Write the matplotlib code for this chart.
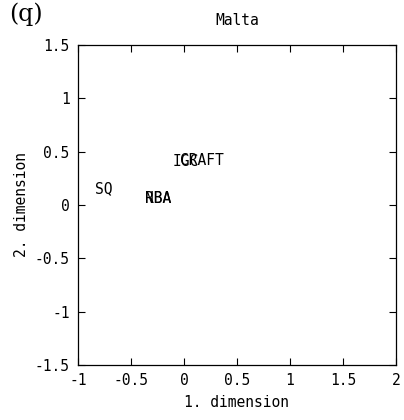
import matplotlib
matplotlib.use("Agg")
import matplotlib.pyplot as plt

# Positions of the parties in the 2-d scaling solution (Malta)
labels = ["SQ", "NBA", "RBA", "IGC", "CRAFT"]
dim1 = [-0.84, -0.37, -0.37, -0.11, -0.04]
dim2 = [0.15, 0.06, 0.06, 0.41, 0.42]

xticks = [-1, -0.5, 0, 0.5, 1, 1.5, 2]
yticks = [-1.5, -1, -0.5, 0, 0.5, 1, 1.5]

plt.rcParams["font.family"] = ["DejaVu Sans Mono"]
plt.rcParams["axes.unicode_minus"] = False

fs = 10.5

fig = plt.figure(figsize=(4.04, 4.20), dpi=100)
ax = fig.add_axes([0.193, 0.131, 0.787, 0.762])

for lab, x, y in zip(labels, dim1, dim2):
    ax.text(x, y, lab, fontsize=fs, ha="left", va="center", color="black")

ax.set_xlim(-1, 2)
ax.set_ylim(-1.5, 1.5)
ax.set_xticks(xticks)
ax.set_yticks(yticks)
ax.set_xticklabels([f"{t:g}" for t in xticks])
ax.set_yticklabels([f"{t:g}" for t in yticks])
ax.tick_params(direction="in", top=True, right=True, length=5, width=0.8,
               labelsize=fs, pad=6)
for s in ax.spines.values():
    s.set_linewidth(0.9)

ax.set_xlabel("1. dimension", fontsize=fs, labelpad=5)
ax.set_ylabel("2. dimension", fontsize=fs, labelpad=4)
ax.set_title("Malta", fontsize=fs, pad=14)

fig.text(0.022, 0.965, "(q)", fontsize=17, family="DejaVu Serif", va="center")

fig.savefig("out.png", dpi=100)
